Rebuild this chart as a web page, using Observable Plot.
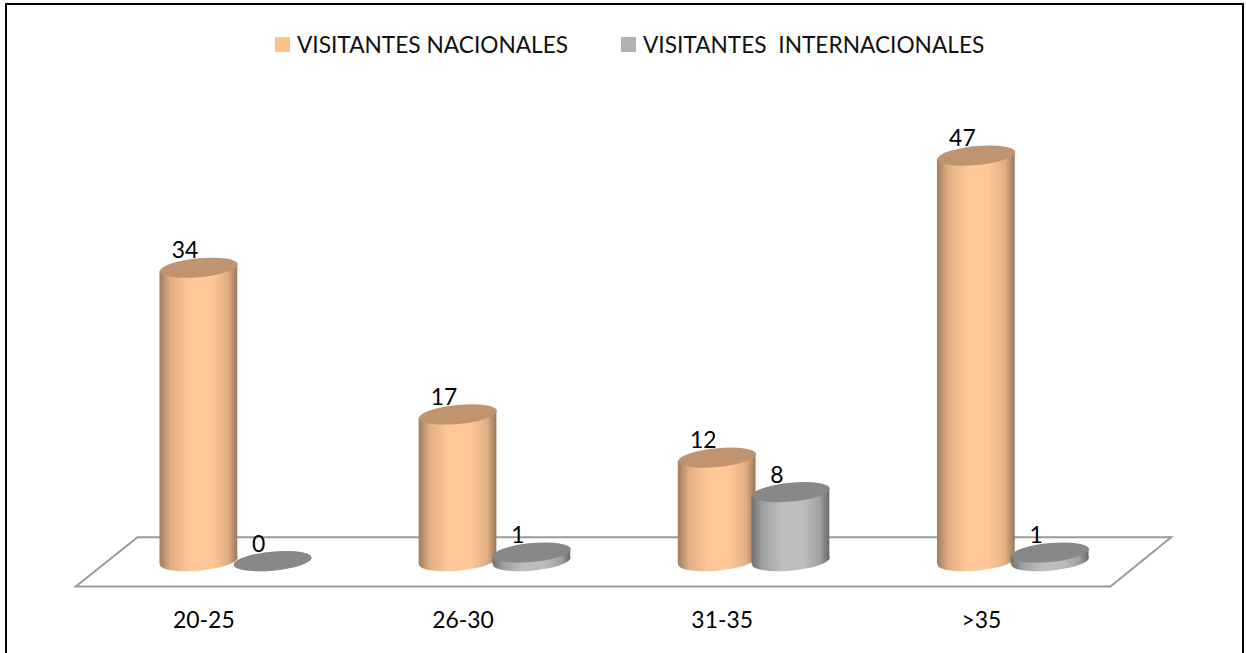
<!DOCTYPE html>
<html>
<head>
<meta charset="utf-8">
<script src="https://cdn.jsdelivr.net/npm/d3@7"></script>
<script src="https://cdn.jsdelivr.net/npm/@observablehq/plot@0.6"></script>
<style>
  html, body { margin: 0; padding: 0; background: #fff; overflow: hidden; }
  #frame { position: absolute; left: 5px; top: 3px; width: 1239px; height: 650px; box-sizing: border-box; border: 2px solid #000; border-bottom: none; overflow: hidden; }
  #legend { position: absolute; left: 0; right: 0; top: 0; height: 70px; font-family: Lato, sans-serif; font-size: 22.7px; color: #111; white-space: pre; }
  #legend span { position: absolute; top: 25px; line-height: 30px; }
  #legend i { position: absolute; top: 32px; width: 15px; height: 15px; }
  #chart { position: absolute; left: -7px; top: -5px; }
</style>
</head>
<body>
<div id="frame">
  <div id="legend"></div>
  <div id="chart"></div>
</div>
<script>
const categories = ["20-25", "26-30", "31-35", ">35"];
const seriesNames = ["VISITANTES NACIONALES", "VISITANTES  INTERNACIONALES"];
const nacionales = [34, 17, 12, 47];
const internacionales = [0, 1, 8, 1];
const seriesFaces = [
  {edgeL: "#a07c5e", soft: "#e0ae84", mid: "#ffc797", edgeR: "#9c7657", top: "#c09470", swatch: "#fcc08a"},
  {edgeL: "#707070", soft: "#a0a0a0", mid: "#bdbdbd", edgeR: "#686868", top: "#888888", swatch: "#b2b2b2"}
];

const rows = categories.flatMap((c, i) => [
  {cat: c, s: seriesNames[0], v: nacionales[i]},
  {cat: c, s: seriesNames[1], v: internacionales[i]}
]);

const tilt = -5.13;          // degrees of shear of the 3-D projection
const capRatio = 0.244;      // vertical squash of the cylinder caps
const floorFront = -3.0;     // floor front edge, in y units
const floorBack = 2.71;      // floor back edge, in y units

// Shears each cylinder element about its centre line.
const shear = function (index, scales, values, dimensions, context, next) {
  const g = next(index, scales, values, dimensions, context);
  d3.select(g).selectAll("circle").each(function () {
    const cx = +this.getAttribute("cx"), cy = +this.getAttribute("cy");
    this.setAttribute("transform", `translate(${cx},${cy}) skewY(${tilt}) scale(1,${capRatio}) translate(${-cx},${-cy})`);
  });
  d3.select(g).selectAll("rect").each(function () {
    const x = +this.getAttribute("x"), w = +this.getAttribute("width"), cx = x + w / 2;
    this.setAttribute("transform", `translate(${cx},0) skewY(${tilt}) translate(${-cx},0)`);
  });
  return g;
};

const floor = (index, scales, values, dims) => {
  const {width, marginLeft, marginRight} = dims;
  const y = scales.y;
  const pts = [
    [marginLeft - 30, y(floorFront)],
    [width - marginRight - 32, y(floorFront)],
    [width - marginRight + 29, y(floorBack)],
    [marginLeft + 32, y(floorBack)]
  ];
  const el = d3.create("svg:path")
    .attr("d", "M" + pts.join("L") + "Z")
    .attr("fill", "none").attr("stroke", "#9a9a9a").attr("stroke-width", 2);
  return el.node();
};

const seriesMarks = (name, k) => {
  const data = rows.filter(r => r.s === name);
  const grad = `url(#grad${k})`;
  const common = {x: "s", fx: "cat"};
  return [
    Plot.dot(data, {...common, y: 0, r: 39, fill: grad, stroke: "none", render: shear}),
    Plot.barY(data, {...common, y: "v", fill: grad, insetLeft: -2, insetRight: -2, render: shear}),
    Plot.dot(data, {...common, y: "v", r: 39, fill: seriesFaces[k].top, stroke: "none", render: shear})
  ];
};

const textMarks = seriesNames.map(name =>
  Plot.text(rows.filter(r => r.s === name), {
    x: "s", fx: "cat", y: "v", text: d => String(d.v), dx: -14, dy: -17, fontSize: 23, fill: "#000"
  })
);

const svg = Plot.plot({
  width: 1246,
  height: 653,
  marginLeft: 104,
  marginRight: 99,
  marginTop: 43,
  marginBottom: 90.5,
  style: {fontFamily: "Lato, sans-serif", background: "transparent", overflow: "visible"},
  fx: {domain: categories, padding: 0, label: null},
  x: {domain: seriesNames, padding: 0, paddingOuter: 0.752, paddingInner: 0, axis: null},
  y: {domain: [0, 60], axis: null},
  marks: [
    Plot.dot([0], {facet: "super", frameAnchor: "middle", render: floor}),
    ...seriesMarks(seriesNames[0], 0),
    ...seriesMarks(seriesNames[1], 1),
    ...textMarks,
    Plot.axisFx({anchor: "bottom", tickSize: 0, tickPadding: 51, dx: -32, fontSize: 23, label: null, fill: "#000"})
  ]
});

const defs = d3.select(svg).insert("svg:defs", ":first-child");
seriesFaces.forEach((f, k) => {
  const lg = defs.append("linearGradient").attr("id", `grad${k}`).attr("x1", 0).attr("x2", 1).attr("y1", 0).attr("y2", 0);
  [[0, f.edgeL], [0.14, f.soft], [0.38, f.mid], [0.66, f.mid], [0.88, f.soft], [1, f.edgeR]].forEach(([o, c]) =>
    lg.append("stop").attr("offset", o).attr("stop-color", c));
});

document.getElementById("chart").appendChild(svg);

const legend = d3.select("#legend");
const legendX = [[268, 290], [614, 636]];
seriesNames.forEach((name, k) => {
  legend.append("i").style("left", legendX[k][0] + "px").style("background", seriesFaces[k].swatch);
  legend.append("span").style("left", legendX[k][1] + "px").text(name);
});
</script>
</body>
</html>
